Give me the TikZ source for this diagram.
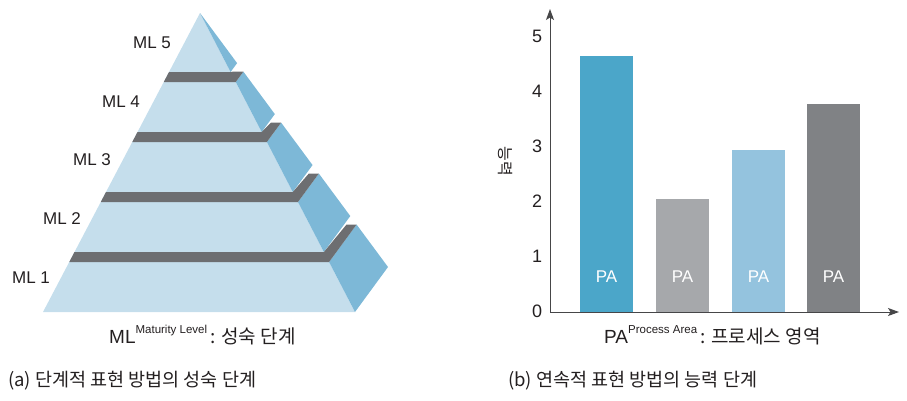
\documentclass[tikz,border=0pt]{standalone}
\usepackage{fontspec}
\setmainfont{Liberation Sans}
\newfontfamily\kofont{Noto Sans CJK KR}
\usetikzlibrary{arrows.meta, calc}
\definecolor{mlfront}{RGB}{197,222,236}
\definecolor{mlside}{RGB}{125,184,215}
\definecolor{mlstep}{RGB}{109,110,113}
\definecolor{barA}{RGB}{75,166,201}
\definecolor{barB}{RGB}{166,168,171}
\definecolor{barC}{RGB}{148,195,222}
\definecolor{barD}{RGB}{128,130,133}
\definecolor{axisgray}{RGB}{70,70,72}
\definecolor{mltext}{RGB}{35,31,32}

\begin{document}
\begin{tikzpicture}[x=1pt, y=-1pt,
    lvl/.style={font=\fontsize{17}{20}\selectfont, text=mltext},
    tick/.style={font=\fontsize{18}{21}\selectfont, text=mltext},
    axis/.style={draw=axisgray, line width=1pt, -{Stealth[length=11pt, width=8pt, inset=2.5pt]}},
    palabel/.style={font=\fontsize{17}{20}\selectfont, text=white},
    legend/.style={anchor=base west, text=mltext, inner sep=0pt},
    caption/.style={anchor=base west, text=mltext, inner sep=0pt, font=\kofont\fontsize{18.5}{22}\selectfont}
]
\useasboundingbox (0,0) rectangle (907,400);

% (a) pyramid
\coordinate (apex) at (200,13);
\coordinate (baseL) at (43,312);
\coordinate (baseR) at (355,312);
\coordinate (baseB) at (388,267);

\fill[mlfront] (apex) -- (baseL) -- (baseR) -- cycle;

\foreach \yb/\yt in {312/262, 252/202, 192/142, 132/82, 72/13} {
    \pgfmathsetmacro\fb{(\yb-13)/299}
    \pgfmathsetmacro\ft{(\yt-13)/299}
    \fill[mlside] ($(apex)!\fb!(baseR)$) -- ($(apex)!\fb!(baseB)$) -- ($(apex)!\ft!(baseB)$) -- ($(apex)!\ft!(baseR)$) -- cycle;
}

\foreach \yt in {262, 202, 142, 82} {
    \pgfmathsetmacro\ft{(\yt-13)/299}
    \pgfmathsetmacro\fu{(\yt-23)/299}
    \fill[mlstep] ($(apex)!\fu!(baseL)$) -- ($(apex)!\ft!(baseL)$) -- ($(apex)!\ft!(baseR)$) -- ($(apex)!\ft!(baseB)$) -- ++(-10,0) -- ($(apex)!\fu!(baseR)$) -- cycle;
}

\node[lvl] (ml5) at (152,43) {ML 5};
\node[lvl] (ml4) at (121,102) {ML 4};
\node[lvl] (ml3) at (92,160) {ML 3};
\node[lvl] (ml2) at (62,219) {ML 2};
\node[lvl] (ml1) at (31,278) {ML 1};

\node[legend] (mllegend) at (109,343) {{\fontsize{19}{22}\selectfont ML}\raisebox{10pt}{\fontsize{11.5}{13}\selectfont Maturity Level}\,\,{\kofont\fontsize{19}{22}\selectfont : 성숙 단계}};

% (b) bar chart
\coordinate (origin) at (550,312);
\coordinate (ytip) at (550,9);
\coordinate (xtip) at (899,312);

\foreach \xl/\top/\col [count=\i] in {580/56/barA, 656/199/barB, 732/150/barC, 807/104/barD} {
    \fill[\col] (\xl,\top) rectangle ({\xl+53},312);
    \node[palabel] (pa\i) at ({\xl+26.5},277) {PA};
}

\draw[axis] (origin) -- (ytip);
\draw[axis] (origin) -- (xtip);

\foreach \v in {0,...,5}
    \node[tick] (tick\v) at (537,{311-55*\v}) {\v};

\node[font=\kofont\fontsize{16}{18}\selectfont, text=mltext, rotate=-90] (ylabel) at (505,161) {능력};

\node[legend] (palegend) at (604,343) {{\fontsize{19}{22}\selectfont PA}\raisebox{10pt}{\fontsize{11.5}{13}\selectfont Process Area}\,\,{\kofont\fontsize{19}{22}\selectfont : 프로세스 영역}};

% captions
\node[caption] (capa) at (8,386) {(a) 단계적 표현 방법의 성숙 단계};
\node[caption] (capb) at (508,386) {(b) 연속적 표현 방법의 능력 단계};

\end{tikzpicture}
\end{document}
